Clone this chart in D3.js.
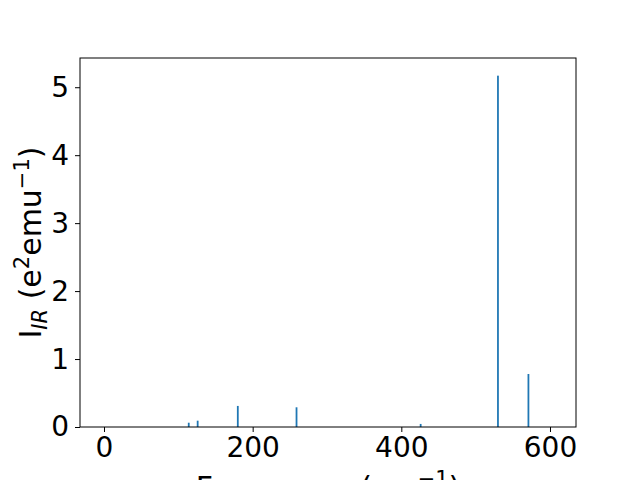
<!DOCTYPE html>
<html>
<head>
<meta charset="utf-8">
<script src="https://cdn.jsdelivr.net/npm/d3@7"></script>
<style>
  body { margin: 0; background: #fff; }
  text { font-family: "DejaVu Sans", sans-serif; }
</style>
</head>
<body>
<div id="chart"></div>
<script>
// IR spectrum: frequencies (cm^-1) and intensities (e^2 emu^-1)
const freqs = [0, 114, 126, 180, 259, 426, 530, 571, 604];
const intensities = [0, 0.063, 0.093, 0.31, 0.29, 0.045, 5.17, 0.78, 0];
const xTicks = [0, 200, 400, 600];
const yTicks = [0, 1, 2, 3, 4, 5];

const width = 640, height = 480;
const margin = {top: 58, right: 64, bottom: 53, left: 80};

const svg = d3.select('#chart')
  .append('svg')
    .attr('width', width)
    .attr('height', height);

const x = d3.scaleLinear()
  .domain([-32.3, 635])
  .range([margin.left, width - margin.right]);

const y = d3.scaleLinear()
  .domain([0, 5.43])
  .range([height - margin.bottom, margin.top]);

const barW = 2.4; // in cm^-1

// bars
svg.append('g')
  .selectAll('rect')
  .data(freqs.map((f, i) => [f, intensities[i]]))
  .join('rect')
    .attr('x', d => x(d[0] - barW / 2))
    .attr('y', d => y(d[1]))
    .attr('width', x(barW) - x(0))
    .attr('height', d => y(0) - y(d[1]))
    .attr('fill', '#1f77b4');

// axes
const xAxis = svg.append('g')
  .attr('transform', `translate(0,${height - margin.bottom})`)
  .call(d3.axisBottom(x).tickValues(xTicks).tickSize(5).tickPadding(5).tickFormat(d3.format('d')));

const yAxis = svg.append('g')
  .attr('transform', `translate(${margin.left},0)`)
  .call(d3.axisLeft(y).tickValues(yTicks).tickSize(5).tickPadding(6).tickFormat(d3.format('d')));

[xAxis, yAxis].forEach(a => {
  a.select('.domain').remove();
  a.selectAll('text').style('font-size', '28px').attr('fill', '#000');
  a.selectAll('line').attr('stroke', '#000');
});

// frame
svg.append('rect')
  .attr('x', margin.left)
  .attr('y', margin.top)
  .attr('width', width - margin.left - margin.right)
  .attr('height', height - margin.top - margin.bottom)
  .attr('fill', 'none')
  .attr('stroke', '#000')
  .attr('stroke-width', 1);

// axis labels
const xl = svg.append('text')
  .attr('x', (margin.left + width - margin.right) / 2)
  .attr('y', 498)
  .attr('text-anchor', 'middle')
  .style('font-size', '30px');
xl.append('tspan').text('Frequency (cm');
xl.append('tspan').attr('dy', -12).style('font-size', '21px').text('\u22121');
xl.append('tspan').attr('dy', 12).text(')');

const yl = svg.append('text')
  .attr('transform', `translate(41,${(margin.top + height - margin.bottom) / 2}) rotate(-90)`)
  .attr('text-anchor', 'middle')
  .style('font-size', '30px');
yl.append('tspan').text('I');
yl.append('tspan').attr('dy', 6).style('font-size', '21px').style('font-style', 'italic').text('IR');
yl.append('tspan').attr('dy', -6).text('\u00a0(e');
yl.append('tspan').attr('dy', -12).style('font-size', '21px').text('2');
yl.append('tspan').attr('dy', 12).text('emu');
yl.append('tspan').attr('dy', -12).style('font-size', '21px').text('\u22121');
yl.append('tspan').attr('dy', 12).text(')');
</script>
</body>
</html>
